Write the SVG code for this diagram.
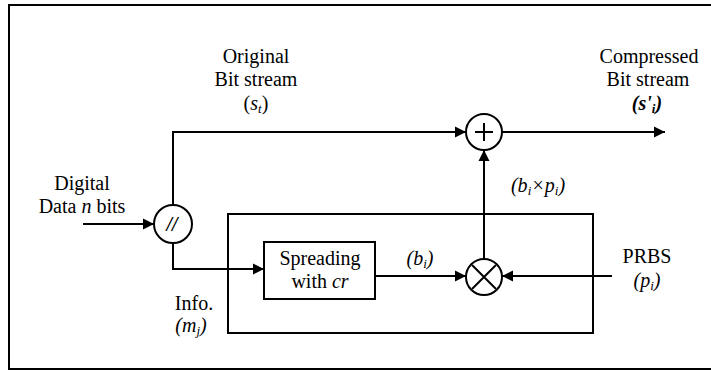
<svg xmlns="http://www.w3.org/2000/svg" width="711" height="371" viewBox="0 0 711 371" font-family="Liberation Serif, DejaVu Serif, Times New Roman, serif">
<defs>
<marker id="ah" markerUnits="userSpaceOnUse" markerWidth="12" markerHeight="12" viewBox="0 0 12 12" refX="11" refY="6" orient="auto">
<path d="M0,0.5 L11,6 L0,11.5 Z" fill="#000"/>
</marker>
<style>
.ln{fill:none;stroke:#000;stroke-width:2}
text{font-size:20px;fill:#000;text-anchor:middle}
.i{font-style:italic}
.sub{font-size:13px}
</style>
</defs>
<rect width="711" height="371" fill="#fff"/>
<path class="ln" d="M711,5 H9 V369 H711"/>
<g id="inner-block"><rect class="ln" x="228" y="214" width="365" height="119"/></g>
<g id="splitter">
<circle class="ln" cx="173" cy="224" r="19"/>
<text class="i" x="172" y="231" font-weight="bold" font-family="Liberation Serif">//</text>
</g>
<g id="adder">
<circle class="ln" cx="484" cy="132" r="18"/>
<path class="ln" d="M475,132 H493 M484,123 V141"/>
</g>
<g id="multiplier">
<circle class="ln" cx="484" cy="277" r="18"/>
<path class="ln" d="M472,265 L496,289 M496,265 L472,289"/>
</g>
<g id="spreading" font-family="Liberation Serif">
<rect class="ln" x="264" y="242" width="111" height="57"/>
<text x="320" y="265">Spreading</text>
<text x="320" y="288">with <tspan class="i">cr</tspan></text>
</g>
<g id="connectors">
<path class="ln" d="M83,224 H154" marker-end="url(#ah)"/>
<path class="ln" d="M173,205 V132 H466" marker-end="url(#ah)"/>
<path class="ln" d="M173,243 V269 H264" marker-end="url(#ah)"/>
<path class="ln" d="M375,276 H466" marker-end="url(#ah)"/>
<path class="ln" d="M612,276 H502" marker-end="url(#ah)"/>
<path class="ln" d="M484,259 V150" marker-end="url(#ah)"/>
<path class="ln" d="M502,132 H665" marker-end="url(#ah)"/>
</g>
<g id="labels" font-family="Liberation Serif">
<text x="256" y="63">Original</text>
<text x="256" y="86">Bit stream</text>
<text x="256" y="110">(<tspan class="i">s</tspan><tspan class="i sub" dy="3">t</tspan><tspan dy="-3">)</tspan></text>
<text x="649" y="63">Compressed</text>
<text x="648" y="86">Bit stream</text>
<text class="i" x="647" y="110" font-weight="bold">(s'<tspan class="sub" dy="3">i</tspan><tspan dy="-3">)</tspan></text>
<text x="82" y="190">Digital</text>
<text x="82" y="213">Data <tspan class="i">n</tspan> bits</text>
<text x="194" y="310">Info.</text>
<text class="i" x="191" y="332">(m<tspan class="sub" dy="3">j</tspan><tspan dy="-3">)</tspan></text>
<text class="i" x="420" y="265">(b<tspan class="sub" dy="3">i</tspan><tspan dy="-3">)</tspan></text>
<text class="i" x="538" y="192">(b<tspan class="sub" dy="3">i</tspan><tspan dy="-3">×p</tspan><tspan class="sub" dy="3">i</tspan><tspan dy="-3">)</tspan></text>
<text x="647" y="263">PRBS</text>
<text class="i" x="647" y="287">(p<tspan class="sub" dy="3">i</tspan><tspan dy="-3">)</tspan></text>
</g>
</svg>
